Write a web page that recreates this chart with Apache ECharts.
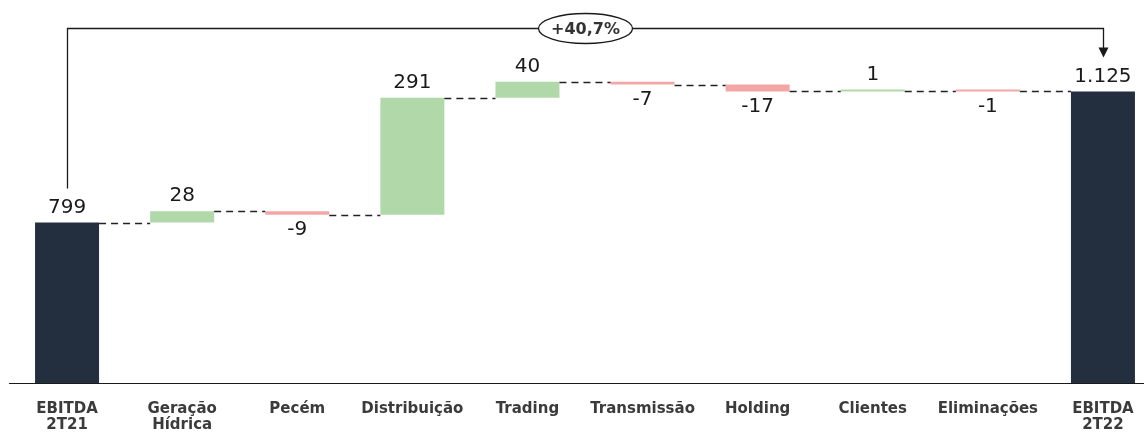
<!DOCTYPE html>
<html>
<head>
<meta charset="utf-8">
<script src="https://cdn.jsdelivr.net/npm/echarts@6/dist/echarts.min.js"></script>
<style>html,body{margin:0;padding:0;background:#fff;overflow:hidden;width:1144px;height:434px}#c{width:1161px;height:434px}</style>
</head>
<body>
<div id="c"></div>
<script>
const categories = ['EBITDA\n2T21','Geração\nHídrica','Pecém','Distribuição','Trading','Transmissão','Holding','Clientes','Eliminações','EBITDA\n2T22'];
const values = [799, 28, -9, 291, 40, -7, -17, 1, -1, 1125];
const valueLabels = ['799','28','-9','291','40','-7','-17','1','-1','1.125'];
const isTotal = [true, false, false, false, false, false, false, false, false, true];
const growthLabel = '+40,7%';

const COLORS = { total: '#232e3e', up: '#b1d8a9', down: '#f4a6a6' };

// build waterfall pieces
const baseData = [], barData = [], connectors = [];
let running = 0;
values.forEach((v, i) => {
  if (isTotal[i]) {
    baseData.push(0);
    barData.push({ value: v, itemStyle: { color: COLORS.total },
      label: { position: 'top' } });
    running = v;
  } else {
    const start = running, end = running + v;
    baseData.push(Math.min(start, end));
    barData.push({ value: Math.abs(v), itemStyle: { color: v >= 0 ? COLORS.up : COLORS.down },
      label: { position: v >= 0 ? 'top' : 'bottom' } });
    running = end;
  }
  if (i < values.length - 1) connectors.push([i, running]);
});

const chart = echarts.init(document.getElementById('c'));
chart.setOption({
  animation: false,
  grid: { left: 9.5, right: 0.5, top: 21, bottom: 51, containLabel: false },
  xAxis: {
    type: 'category', data: categories,
    axisLine: { lineStyle: { color: '#1a1a1a', width: 1.2 } },
    axisTick: { show: false },
    axisLabel: { interval: 0, margin: 18, fontFamily: 'DejaVu Sans', fontWeight: 'bold',
      fontSize: 15, lineHeight: 16, color: '#3b3b3b' }
  },
  yAxis: { type: 'value', min: 400, max: 1300, show: false, splitLine: { show: false } },
  series: [
    { type: 'bar', stack: 'w', data: baseData, barWidth: 64,
      itemStyle: { color: 'transparent' }, silent: true },
    { type: 'bar', stack: 'w', data: barData, barWidth: 64, barMinHeight: 2,
      label: { show: true, distance: 5, fontFamily: 'DejaVu Sans', fontSize: 20, color: '#1a1a1a',
        formatter: p => valueLabels[p.dataIndex] } },
    { type: 'custom', data: connectors, z: 5,
      renderItem: (params, api) => {
        const i = api.value(0), lvl = api.value(1);
        const p1 = api.coord([i, lvl]), p2 = api.coord([i + 1, lvl]);
        const y = Math.round(p1[1]) + 0.5;
        return { type: 'line', shape: { x1: p1[0] + 32, y1: y, x2: p2[0] - 32, y2: y },
          style: { stroke: '#222', lineWidth: 1.5, lineDash: [7, 5] } };
      } }
  ]
});

// growth bracket from first to last total
const pA = chart.convertToPixel({ gridIndex: 0 }, [0, values[0]]);
const pB = chart.convertToPixel({ gridIndex: 0 }, [values.length - 1, values[values.length - 1]]);
const topY = 28.5;
const xA = Math.round(pA[0]) + 0.5, xB = Math.round(pB[0]) + 0.5;
const yA = pA[1] - 34, yB = pB[1] - 34;
const cx = (xA + xB) / 2;
chart.setOption({
  graphic: [
    { type: 'polyline', shape: { points: [[xA, yA], [xA, topY], [xB, topY], [xB, yB - 9]] },
      style: { stroke: '#1a1a1a', lineWidth: 1.3, fill: null }, z: 10 },
    { type: 'polygon', shape: { points: [[xB - 5, yB - 10], [xB + 5, yB - 10], [xB, yB]] },
      style: { fill: '#1a1a1a' }, z: 10 },
    { type: 'ellipse', shape: { cx: cx, cy: topY, rx: 47, ry: 15 },
      style: { fill: '#fff', stroke: '#1a1a1a', lineWidth: 1.3 }, z: 11 },
    { type: 'text', x: cx, y: topY + 1, z: 12,
      style: { text: growthLabel, fontFamily: 'DejaVu Sans', fontWeight: 'bold', fontSize: 16,
        fill: '#333', align: 'center', verticalAlign: 'middle' } }
  ]
});
</script>
</body>
</html>
